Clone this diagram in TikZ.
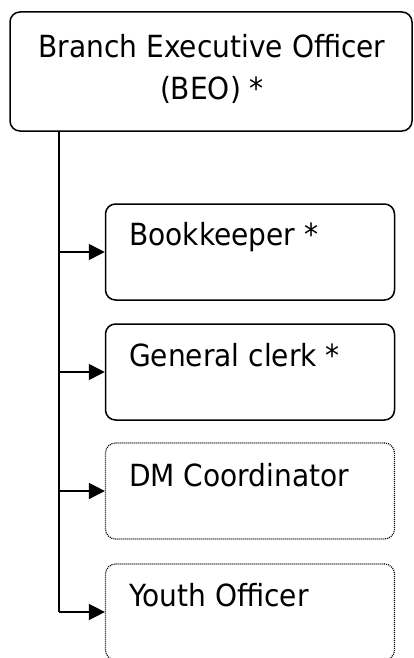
\documentclass[tikz,border=0pt]{standalone}
\usepackage{fontspec}
\setmainfont[FakeStretch=0.92]{DejaVu Sans}
\usetikzlibrary{arrows.meta}
\begin{document}
\begin{tikzpicture}[x=1pt,y=-1pt,
  solidbox/.style={draw, line width=1.5pt, rounded corners=10pt, inner sep=0pt},
  dotbox/.style={draw, line width=1.2pt, dash pattern=on 1pt off 1pt, rounded corners=10pt, inner sep=0pt},
  label/.style={inner sep=0pt, anchor=base west, font=\fontsize{30.5}{43}\selectfont},
  link/.style={line width=1.5pt},
  feed/.style={line width=1.5pt, -{Triangle[length=16pt,width=16pt]}}]
\useasboundingbox (0,0) rectangle (413,658);
% head of branch
\node[solidbox, minimum width=402pt, minimum height=119pt] (beo) at (211,71.5) {};
\node[inner sep=0pt, anchor=base, font=\fontsize{30.5}{43}\selectfont, align=center] (beotext) at (212,100)
  {Branch Executive Officer\\(BEO) *};
% staff positions
\node[solidbox, minimum width=289pt, minimum height=96pt] (book) at (250,252) {};
\node[solidbox, minimum width=289pt, minimum height=96pt] (clerk) at (250,372) {};
\node[dotbox, minimum width=289pt, minimum height=96pt] (dm) at (250,491) {};
\node[dotbox, minimum width=289pt, minimum height=96pt] (youth) at (250,612) {};
\node[label] (booktext) at (129,245) {Bookkeeper *};
\node[label] (clerktext) at (129,366) {General clerk *};
\node[label] (dmtext) at (129,486) {DM Coordinator};
\node[label] (youthtext) at (129,606) {Youth Officer};
% reporting lines
\coordinate (trunk) at (59,0);
\draw[link] (beo.south -| trunk) -- (trunk |- youth.west);
\draw[feed] (trunk |- book.west) -- (book.west);
\draw[feed] (trunk |- clerk.west) -- (clerk.west);
\draw[feed] (trunk |- dm.west) -- (dm.west);
\draw[feed] (trunk |- youth.west) -- (youth.west);
\end{tikzpicture}
\end{document}
